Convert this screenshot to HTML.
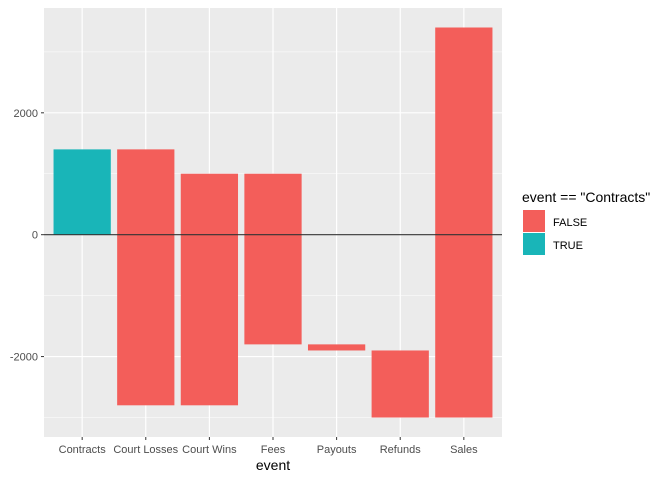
<!DOCTYPE html>
<html><head><meta charset="utf-8"><style>
body{margin:0;background:#fff;font-family:"Liberation Sans",sans-serif}
text{font-family:"Liberation Sans",sans-serif}
</style></head><body>
<svg id="chart" width="672" height="480" xmlns="http://www.w3.org/2000/svg"></svg>
<script>
const categories=["Contracts","Court Losses","Court Wins","Fees","Payouts","Refunds","Sales"];
const startValues=[0,1400,1000,1000,-1800,-1900,-3000];
const endValues=[1400,-2800,-2800,-1800,-1900,-3000,3400];
const isContracts=[true,false,false,false,false,false,false];
const yTicks=[-2000,0,2000];
const yMinor=[-3000,-1000,1000,3000];
const NS="http://www.w3.org/2000/svg";
const svg=document.getElementById('chart');
const L=44,R=502,T=8,B=437;
const ymin=-3320,ymax=3720;
const y=v=>B-(v-ymin)/(ymax-ymin)*(B-T);
const step=(R-L)/(categories.length+0.2);
const x=i=>L+(0.6+i)*step;
function el(tag,attrs,parent){const e=document.createElementNS(NS,tag);for(const k in attrs)e.setAttribute(k,attrs[k]);(parent||svg).appendChild(e);return e;}
const panel=el('rect',{x:L,y:T,width:R-L,height:B-T,fill:'#EBEBEB'});


yMinor.forEach(v=>{const g=el('line',{x1:L,x2:R,y1:y(v),y2:y(v),stroke:'#fff','stroke-width':0.6});

});
yTicks.forEach(v=>{const g=el('line',{x1:L,x2:R,y1:y(v),y2:y(v),stroke:'#fff','stroke-width':1.2});


const t=el('line',{x1:L-3,x2:L,y1:y(v),y2:y(v),stroke:'#333','stroke-width':1});


const lb=el('text',{x:L-6,y:y(v)+4,'text-anchor':'end','font-size':11,fill:'#4D4D4D'});lb.textContent=v;

});
categories.forEach((c,i)=>{const g=el('line',{x1:x(i),x2:x(i),y1:T,y2:B,stroke:'#fff','stroke-width':1.2});

});
const bw=step*0.9;
categories.forEach((c,i)=>{const a=y(startValues[i]),b=y(endValues[i]);
const r=el('rect',{x:x(i)-bw/2,y:Math.min(a,b),width:bw,height:Math.abs(a-b),fill:isContracts[i]?'#19B5B8':'#F35E5A'});


const t=el('line',{x1:x(i),x2:x(i),y1:B,y2:B+3,stroke:'#333','stroke-width':1});


const lb=el('text',{x:x(i),y:B+16,'text-anchor':'middle','font-size':11,fill:'#4D4D4D'});lb.textContent=c;

});
const h=el('line',{x1:L,x2:R,y1:y(0),y2:y(0),stroke:'#333','stroke-width':1.2});


const xt=el('text',{x:(L+R)/2,y:470,'text-anchor':'middle','font-size':14,fill:'#000'});xt.textContent='event';


const lt=el('text',{x:522,y:202,'font-size':14,fill:'#000'});lt.textContent='event == "Contracts"';


[['FALSE','#F35E5A'],['TRUE','#19B5B8']].forEach((d,k)=>{
const r=el('rect',{x:523,y:210+k*23,width:22,height:22,fill:d[1]});


const t=el('text',{x:553,y:226+k*23,'font-size':11,fill:'#000'});t.textContent=d[0];

});
</script>
</body></html>
